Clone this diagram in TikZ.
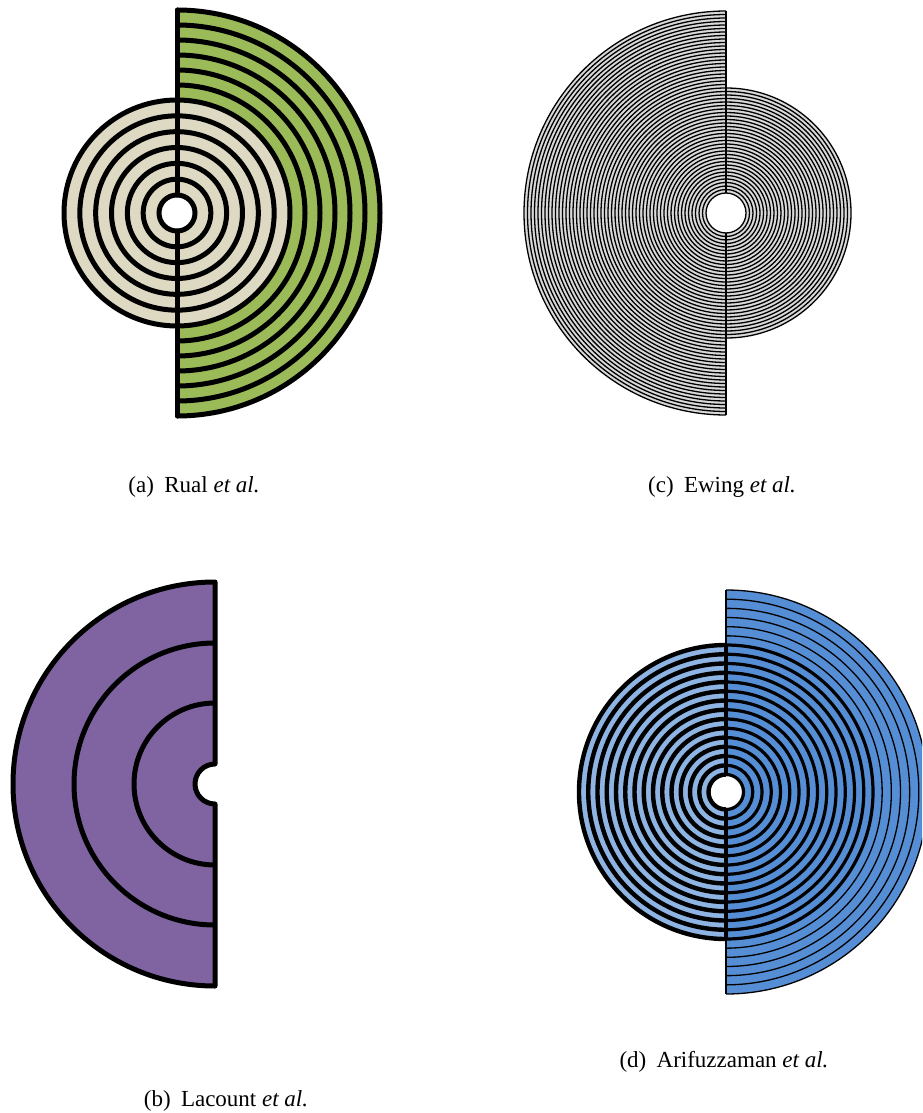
\documentclass[tikz,border=0pt]{standalone}
\usepackage{fontspec}
\setmainfont{Liberation Serif}
\usetikzlibrary{positioning}
\definecolor{tan}{HTML}{DDD9C3}
\definecolor{leaf}{HTML}{9BBB59}
\definecolor{plum}{HTML}{8064A2}
\definecolor{sky}{HTML}{8EB4E3}
\definecolor{ocean}{HTML}{558ED5}
\definecolor{mist}{HTML}{D9D9D9}

\begin{document}
\begin{tikzpicture}[
  x=1pt, y=1pt,
  heavy/.style={draw=black, line width=5pt},
  medium/.style={draw=black, line width=4.4pt},
  light/.style={draw=black, line width=3.2pt},
  hair/.style={draw=black, line width=1.3pt},
  sublabel/.style={font=\fontsize{23}{27}\selectfont, inner sep=0pt}
]
\useasboundingbox (0,0) rectangle (922,-1113);
\clip (0,0) rectangle (922,-1113);

\coordinate (rual) at (177,-213);
\fill[leaf] (rual) ++(0,203) arc[start angle=90, end angle=-90, radius=203] -- cycle;
\fill[tan] (rual) circle[radius=113];
\fill[white] (rual) circle[radius=18];
\foreach \r in {128,143,...,203}
  \draw[heavy] (rual) ++(0,\r) arc[start angle=90, end angle=-90, radius=\r];
\foreach \k in {0,...,6}
  \draw[heavy] (rual) circle[radius={18+\k*95/6}];
\draw[heavy, line cap=round] (rual) ++(0,203) -- ++(0,-185);
\draw[heavy, line cap=round] (rual) ++(0,-18) -- ++(0,-185);
\node[sublabel] (capa) at (194,-487) {(a)\hspace{0.45em}Rual \textit{et al.}};

\coordinate (ewing) at (726,-213);
\fill[mist] (ewing) ++(0,202) arc[start angle=90, end angle=270, radius=202] -- cycle;
\fill[mist] (ewing) ++(0,125) arc[start angle=90, end angle=-90, radius=125] -- cycle;
\fill[white] (ewing) circle[radius=20];
\foreach \k in {0,...,52}
  \draw[hair] (ewing) ++(0,{20+3.5*\k}) arc[start angle=90, end angle=270, radius={20+3.5*\k}];
\foreach \k in {0,...,30}
  \draw[hair] (ewing) ++(0,{20+3.5*\k}) arc[start angle=90, end angle=-90, radius={20+3.5*\k}];
\draw[hair] (ewing) ++(0,202) -- ++(0,-182);
\draw[hair] (ewing) ++(0,-20) -- ++(0,-182);
\node[sublabel] (capc) at (722,-487) {(c)\hspace{0.45em}Ewing \textit{et al.}};

\coordinate (lacount) at (215,-784);
\draw[heavy, fill=plum, line join=round] (lacount) ++(0,202)
  arc[start angle=90, end angle=270, radius=202] -- ++(0,182)
  arc[start angle=270, end angle=90, radius=20] -- cycle;
\foreach \r in {81,141}
  \draw[heavy] (lacount) ++(0,\r) arc[start angle=90, end angle=270, radius=\r];
\node[sublabel] (capb) at (226,-1101) {(b)\hspace{0.45em}Lacount \textit{et al.}};

\coordinate (arif) at (726,-792);
\fill[ocean] (arif) ++(0,202) arc[start angle=90, end angle=-90, radius=202] -- cycle;
\fill[sky] (arif) ++(0,147) arc[start angle=90, end angle=270, radius=147] -- cycle;
\fill[white] (arif) circle[radius=17.5];
\foreach \k in {1,...,6}
  \draw[hair] (arif) ++(0,{147+55/6*\k}) arc[start angle=90, end angle=-90, radius={147+55/6*\k}];
\foreach \k in {0,...,14}
  \draw[light] (arif) ++(0,{17.5+9.25*\k}) arc[start angle=90, end angle=-90, radius={17.5+9.25*\k}];
\foreach \k in {0,...,14}
  \draw[medium] (arif) ++(0,{17.5+9.25*\k}) arc[start angle=90, end angle=270, radius={17.5+9.25*\k}];
\draw[medium] (arif) ++(0,147) -- ++(0,-129.5);
\draw[medium] (arif) ++(0,-17.5) -- ++(0,-129.5);
\draw[hair] (arif) ++(0,202) -- ++(0,-55);
\draw[hair] (arif) ++(0,-147) -- ++(0,-55);
\node[sublabel] (capd) at (724,-1062) {(d)\hspace{0.45em}Arifuzzaman \textit{et al.}};
\end{tikzpicture}
\end{document}
